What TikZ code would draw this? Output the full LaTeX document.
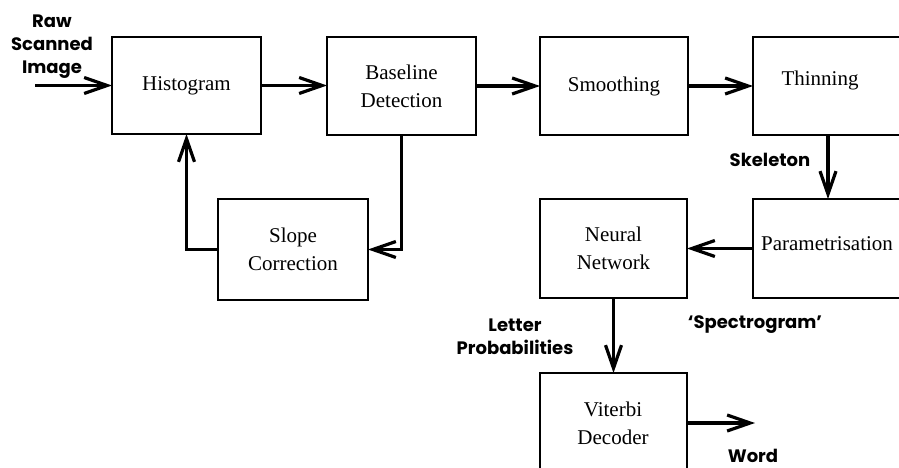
\documentclass[tikz,border=0pt]{standalone}
\usepackage{fontspec}
\setmainfont{Liberation Serif}
\newfontfamily\labfont{Poppins}
\usetikzlibrary{arrows.meta}
\begin{document}
\begin{tikzpicture}[x=1pt,y=-1pt,
  box/.style={draw,line width=2.4pt,rectangle,inner sep=0pt,outer sep=0pt,
    font=\fontsize{21}{28}\selectfont,align=center},
  txt/.style={font=\fontsize{21}{28}\selectfont,align=center,inner sep=0pt},
  lab/.style={font=\labfont\bfseries\fontsize{18}{23}\selectfont,align=center,inner sep=0pt},
  arr/.style={line width=3.2pt,-{Straight Barb[length=23pt,width=16pt]}}]
\useasboundingbox (0,0) rectangle (899,468);
\clip (0,0) rectangle (899,468);
% boxes
\node[box,minimum width=149pt,minimum height=97pt] (hist) at (186.5,85.5) {Histogram};
\node[box,minimum width=149pt,minimum height=98pt] (base) at (401.5,86) {Baseline\\Detection};
\node[box,minimum width=148pt,minimum height=98pt] (smooth) at (614,86) {Smoothing};
\node[box,minimum width=177pt,minimum height=98pt] (thin) at (841.5,86) {};
\node[txt] (thintxt) at (820,80) {Thinning};
\node[box,minimum width=150pt,minimum height=101pt] (slope) at (293,249.5) {Slope\\Correction};
\node[box,minimum width=147pt,minimum height=99pt] (neural) at (613.5,248.5) {Neural\\Network};
\node[box,minimum width=177pt,minimum height=99pt] (param) at (841.5,248.5) {};
\node[txt] (paramtxt) at (827,244) {Parametrisation};
\node[box,minimum width=147pt,minimum height=127pt] (vit) at (613.5,436.5) {};
\node[txt] (vittxt) at (613,423) {Viterbi\\Decoder};
% labels
\node[lab] (raw) at (52,47) {Raw\\Scanned\\Image};
\node[lab] (skel) at (770,160) {Skeleton};
\node[lab] (spec) at (755,325) {‘Spectrogram’};
\node[lab] (lp) at (515,337) {Letter\\Probabilities};
\node[lab] (word) at (753,456) {Word};
% connectors
\coordinate (in) at (35,85.5);
\draw[arr] (in) -- (hist.west);
\draw[arr] (hist.east) -- (hist.east -| base.west);
\draw[arr] (base.east) -- (base.east -| smooth.west);
\draw[arr] (smooth.east) -- (smooth.east -| thin.west);
\draw[arr] (base.south) |- (slope.east);
\draw[arr] (slope.west) -| (hist.south);
\draw[arr] ([xshift=75pt]thin.south west) -- ([xshift=75pt]param.north west);
\draw[arr] (param.west) -- (param.west -| neural.east);
\draw[arr] (neural.south) -- (vit.north);
\coordinate (out) at (755,423);
\draw[arr] ([yshift=13.5pt]vit.east) -- (out);
\end{tikzpicture}
\end{document}
